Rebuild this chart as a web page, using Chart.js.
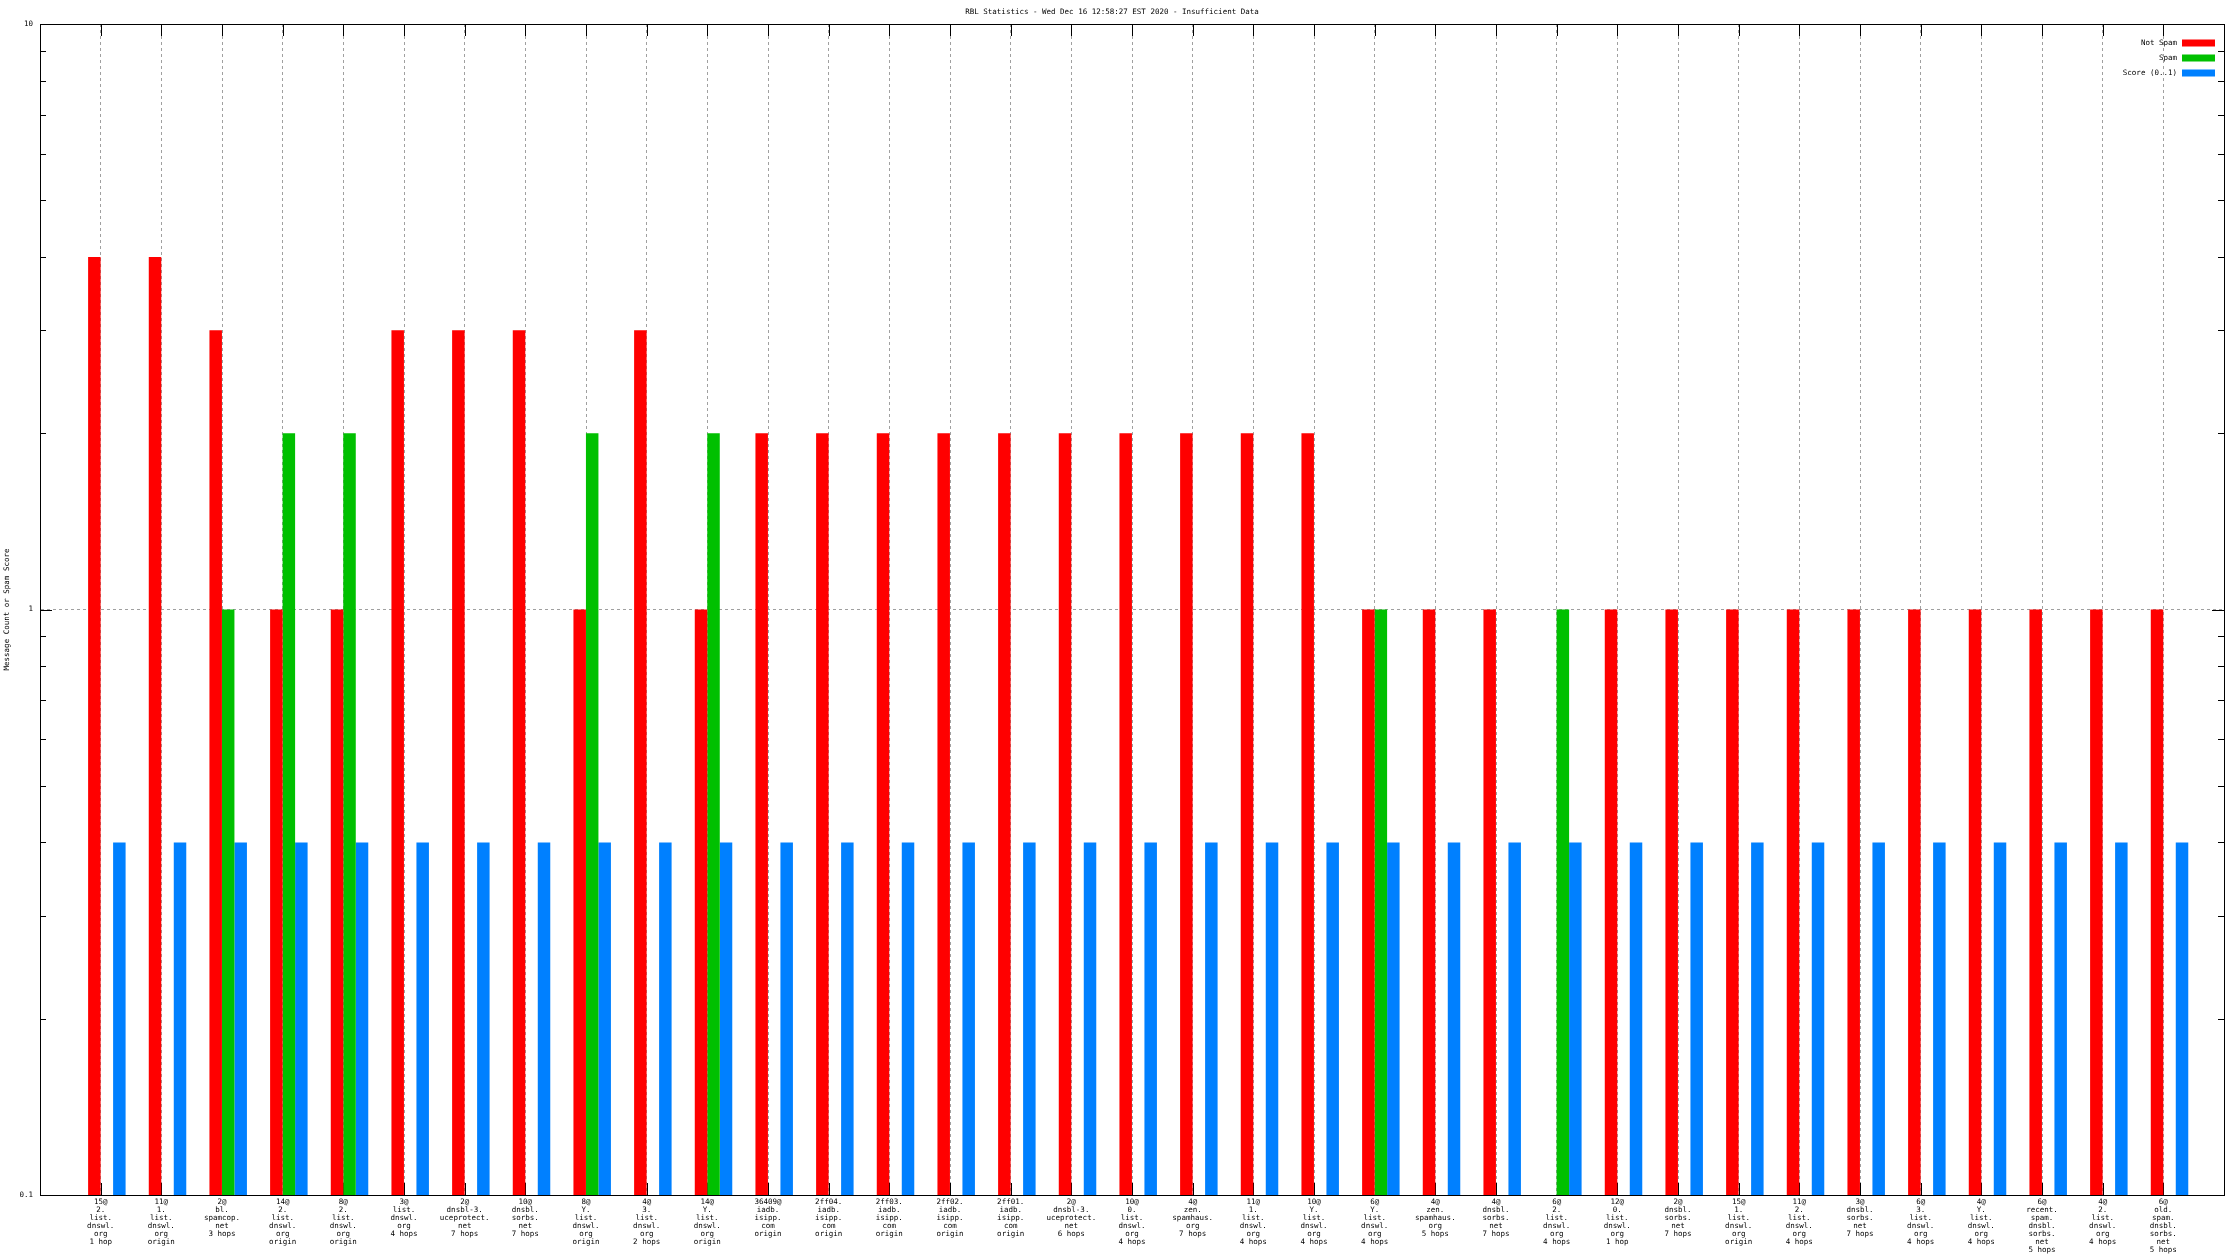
<!DOCTYPE html>
<html>
<head>
<meta charset="utf-8">
<title>RBL Statistics</title>
<script src="https://cdn.jsdelivr.net/npm/chart.js@4/dist/chart.umd.min.js"></script>
<style>
	body { margin: 0; background: #fff; }
	#box { width: 2240px; height: 1260px; position: relative; }
</style>
</head>
<body>
<div id="box"><canvas id="chart-area"></canvas></div>
<script>
var categories = [
	"15@\n2.\nlist.\ndnswl.\norg\n1 hop",
	"11@\n1.\nlist.\ndnswl.\norg\norigin",
	"2@\nbl.\nspamcop.\nnet\n3 hops",
	"14@\n2.\nlist.\ndnswl.\norg\norigin",
	"8@\n2.\nlist.\ndnswl.\norg\norigin",
	"3@\nlist.\ndnswl.\norg\n4 hops",
	"2@\ndnsbl-3.\nuceprotect.\nnet\n7 hops",
	"10@\ndnsbl.\nsorbs.\nnet\n7 hops",
	"8@\nY.\nlist.\ndnswl.\norg\norigin",
	"4@\n3.\nlist.\ndnswl.\norg\n2 hops",
	"14@\nY.\nlist.\ndnswl.\norg\norigin",
	"36409@\niadb.\nisipp.\ncom\norigin",
	"2ff04.\niadb.\nisipp.\ncom\norigin",
	"2ff03.\niadb.\nisipp.\ncom\norigin",
	"2ff02.\niadb.\nisipp.\ncom\norigin",
	"2ff01.\niadb.\nisipp.\ncom\norigin",
	"2@\ndnsbl-3.\nuceprotect.\nnet\n6 hops",
	"10@\n0.\nlist.\ndnswl.\norg\n4 hops",
	"4@\nzen.\nspamhaus.\norg\n7 hops",
	"11@\n1.\nlist.\ndnswl.\norg\n4 hops",
	"10@\nY.\nlist.\ndnswl.\norg\n4 hops",
	"6@\nY.\nlist.\ndnswl.\norg\n4 hops",
	"4@\nzen.\nspamhaus.\norg\n5 hops",
	"4@\ndnsbl.\nsorbs.\nnet\n7 hops",
	"6@\n2.\nlist.\ndnswl.\norg\n4 hops",
	"12@\n0.\nlist.\ndnswl.\norg\n1 hop",
	"2@\ndnsbl.\nsorbs.\nnet\n7 hops",
	"15@\n1.\nlist.\ndnswl.\norg\norigin",
	"11@\n2.\nlist.\ndnswl.\norg\n4 hops",
	"3@\ndnsbl.\nsorbs.\nnet\n7 hops",
	"6@\n3.\nlist.\ndnswl.\norg\n4 hops",
	"4@\nY.\nlist.\ndnswl.\norg\n4 hops",
	"6@\nrecent.\nspam.\ndnsbl.\nsorbs.\nnet\n5 hops",
	"4@\n2.\nlist.\ndnswl.\norg\n4 hops",
	"6@\nold.\nspam.\ndnsbl.\nsorbs.\nnet\n5 hops"
];

// null = nothing drawn (zero on a log axis)
var notSpam = [4, 4, 3, 1, 1, 3, 3, 3, 1, 3, 1, 2, 2, 2, 2, 2, 2, 2, 2, 2, 2, 1, 1, 1, null, 1, 1, 1, 1, 1, 1, 1, 1, 1, 1];
var spam = [null, null, 1, 2, 2, null, null, null, 2, null, 2, null, null, null, null, null, null, null, null, null, null, 1, null, null, 1, null, null, null, null, null, null, null, null, null, null];
var score = [0.4, 0.4, 0.4, 0.4, 0.4, 0.4, 0.4, 0.4, 0.4, 0.4, 0.4, 0.4, 0.4, 0.4, 0.4, 0.4, 0.4, 0.4, 0.4, 0.4, 0.4, 0.4, 0.4, 0.4, 0.4, 0.4, 0.4, 0.4, 0.4, 0.4, 0.4, 0.4, 0.4, 0.4, 0.4];

var yMajor = [0.1, 1, 10];
var yMinor = [0.2, 0.3, 0.4, 0.5, 0.6, 0.7, 0.8, 0.9, 2, 3, 4, 5, 6, 7, 8, 9];

var police = '"DejaVu Sans Mono", monospace';

function points(values) {
	return values.map(function (v, i) { return { x: i + 1, y: v }; });
}

// gnuplot style frame: ticks inside, box all around, legend top right
var cadre = {
	id: 'cadre',
	beforeDatasetsDraw: function (chart) {
		var ctx = chart.ctx, a = chart.chartArea;
		var sx = chart.scales.x, sy = chart.scales.y;
		ctx.save();
		ctx.strokeStyle = '#000';
		ctx.lineWidth = 1;
		ctx.beginPath();
		sy.ticks.forEach(function (t) {
			var y = Math.round(sy.getPixelForValue(t.value)) + 0.5;
			var len = yMajor.indexOf(t.value) >= 0 ? 12 : 6;
			ctx.moveTo(a.left, y); ctx.lineTo(a.left + len, y);
			ctx.moveTo(a.right, y); ctx.lineTo(a.right - len, y);
		});
		sx.ticks.forEach(function (t) {
			var x = Math.round(sx.getPixelForValue(t.value)) + 0.5;
			ctx.moveTo(x, a.top); ctx.lineTo(x, a.top + 12);
			ctx.moveTo(x, a.bottom); ctx.lineTo(x, a.bottom - 12);
		});
		ctx.stroke();
		ctx.restore();
	},
	afterDraw: function (chart) {
		var ctx = chart.ctx, a = chart.chartArea;
		ctx.save();
		ctx.strokeStyle = '#000';
		ctx.lineWidth = 1;
		ctx.strokeRect(Math.round(a.left) + 0.5, Math.round(a.top) + 0.5, Math.round(a.right - a.left), Math.round(a.bottom - a.top));

		ctx.font = '7.5px ' + police;
		ctx.textAlign = 'right';
		ctx.textBaseline = 'middle';
		chart.data.datasets.forEach(function (ds, i) {
			var y = a.top + 19 + i * 15;
			ctx.fillStyle = '#000';
			ctx.fillText(ds.label, a.right - 47, y);
			ctx.fillStyle = ds.backgroundColor;
			ctx.fillRect(a.right - 42, y - 3.5, 33, 7);
		});
		ctx.restore();
	}
};

var ctx = document.getElementById("chart-area").getContext("2d");
window.myBar = new Chart(ctx, {
	type: 'bar',
	data: {
		datasets: [{
			label: 'Not Spam',
			xAxisID: 'xb',
			backgroundColor: '#ff0000',
			data: points(notSpam)
		}, {
			label: 'Spam',
			xAxisID: 'xb',
			backgroundColor: '#00c000',
			data: points(spam)
		}, {
			label: 'Score (0..1)',
			xAxisID: 'xb',
			backgroundColor: '#0080ff',
			data: points(score)
		}]
	},
	options: {
		responsive: true,
		maintainAspectRatio: false,
		animation: false,
		datasets: {
			bar: { categoryPercentage: 0.618, barPercentage: 1, borderWidth: 0 }
		},
		layout: { padding: { left: 0, right: 16, top: 0, bottom: 0 } },
		plugins: {
			legend: { display: false },
			tooltip: { enabled: false },
			title: {
				display: true,
				text: 'RBL Statistics - Wed Dec 16 12:58:27 EST 2020 - Insufficient Data',
				color: '#000',
				font: { family: police, size: 7.5, weight: 'normal', lineHeight: 1.2 },
				padding: { top: 8, bottom: 7 }
			}
		},
		scales: {
			x: {
				type: 'linear',
				min: 0,
				max: 36,
				offset: false,
				afterBuildTicks: function (s) {
					s.ticks = categories.map(function (c, i) { return { value: i + 1 }; });
				},
				afterFit: function (s) { s.height = 65; },
				ticks: {
					autoSkip: false,
					maxRotation: 0,
					minRotation: 0,
					padding: 3,
					color: '#000',
					font: { family: police, size: 7.5, lineHeight: 1.07 },
					callback: function (v) {
						var c = categories[Math.round(v) - 1];
						return c ? c.split('\n') : '';
					}
				},
				grid: { color: '#a0a0a0', lineWidth: 1, drawTicks: false, offset: false },
				border: { display: true, color: '#000', width: 1, dash: [3, 3] }
			},
			// hidden axis carrying the bars, shifted so the red bar ends on the tick
			xb: {
				type: 'linear',
				display: false,
				offset: false,
				bounds: 'data',
				grid: { offset: false },
				min: -0.102,
				max: 35.898
			},
			y: {
				type: 'logarithmic',
				min: 0.1,
				max: 10,
				afterBuildTicks: function (s) {
					s.ticks = yMajor.concat(yMinor).sort(function (p, q) { return p - q; })
						.map(function (v) { return { value: v }; });
				},
				afterFit: function (s) { s.width = 40; },
				title: {
					display: true,
					text: 'Message Count or Spam Score',
					color: '#000',
					font: { family: police, size: 7.5 },
					padding: { top: 3, bottom: 0 }
				},
				ticks: {
					autoSkip: false,
					padding: 7,
					color: '#000',
					font: { family: police, size: 7.5 },
					callback: function (v) {
						return yMajor.indexOf(v) >= 0 ? String(v) : '';
					}
				},
				grid: {
					drawTicks: false,
					lineWidth: 1,
					color: function (c) {
						return c.tick && c.tick.value === 1 ? '#a0a0a0' : 'rgba(0,0,0,0)';
					}
				},
				border: { display: true, color: '#000', width: 1, dash: [3, 3] }
			}
		}
	},
	plugins: [cadre]
});
</script>
</body>
</html>
